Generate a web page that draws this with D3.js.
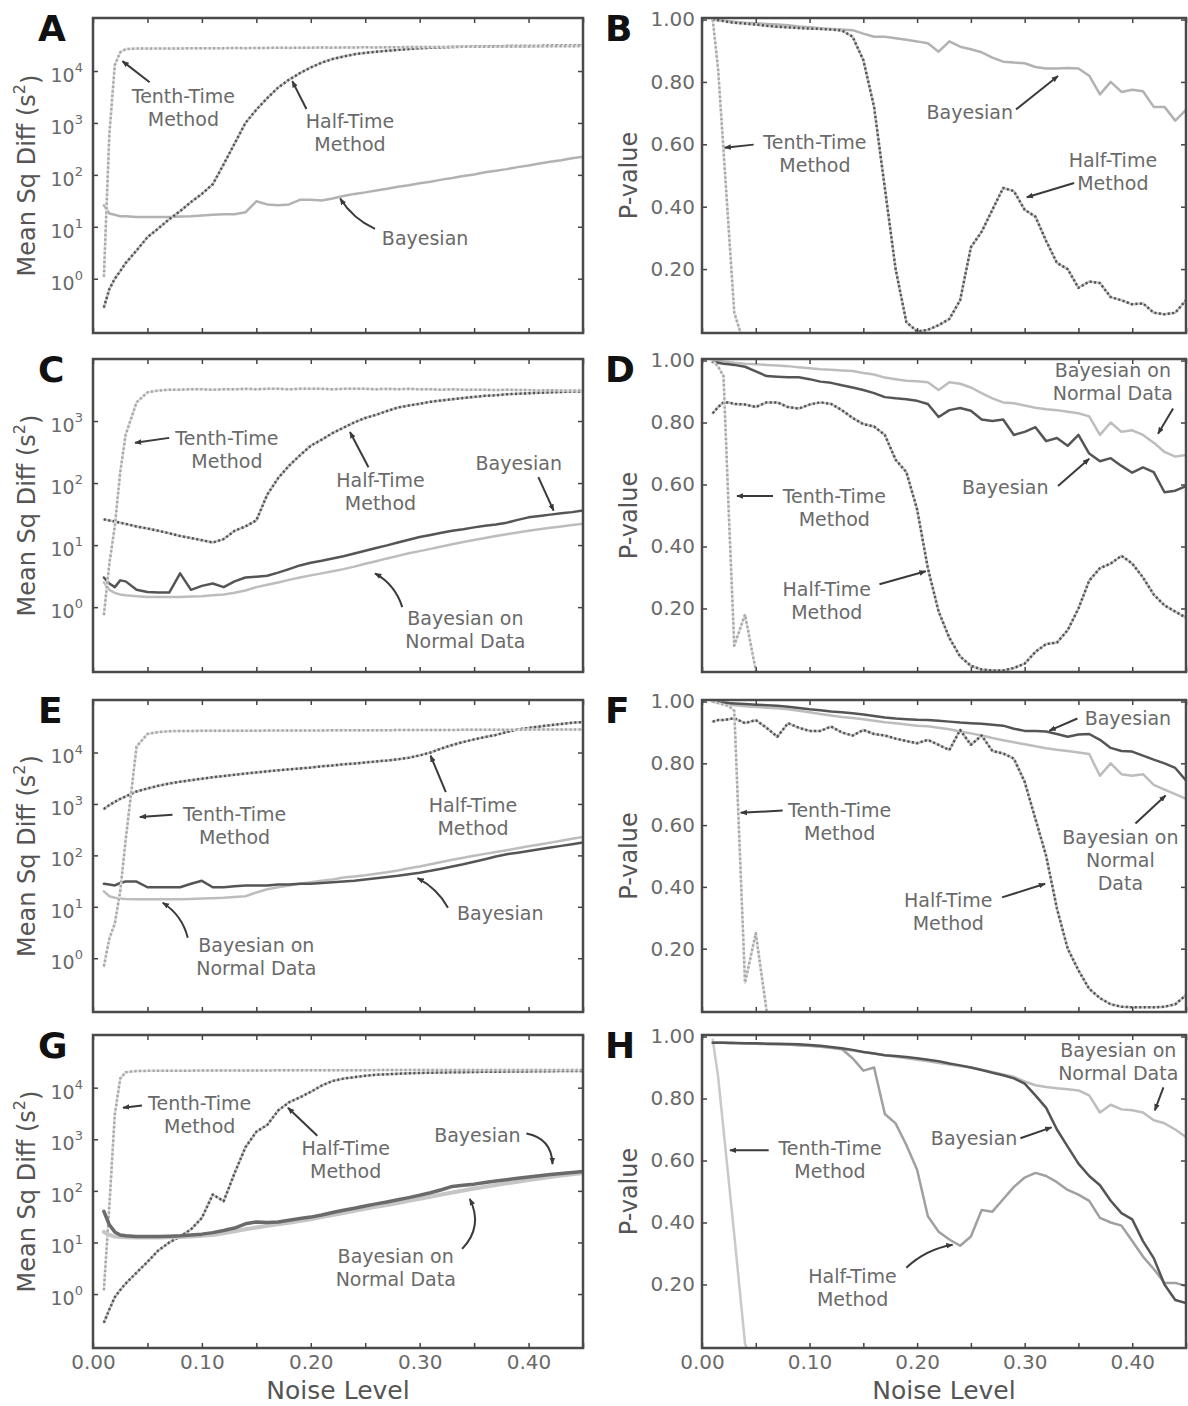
<!DOCTYPE html>
<html><head><meta charset="utf-8">
<script src="https://cdn.jsdelivr.net/npm/d3@7"></script>
<style>
body{margin:0;background:#fff;}
svg text{font-family:"DejaVu Sans",sans-serif;}
</style></head><body>
<svg id="chart" width="1188" height="1406"></svg>
<script>
// ---------------- DATA ----------------
const noise = [0.01,0.015,0.02,0.025,0.03,
 0.04,0.05,0.06,0.07,0.08,0.09,
 0.10,0.11,0.12,0.13,0.14,0.15,0.16,0.17,0.18,0.19,
 0.20,0.21,0.22,0.23,0.24,0.25,0.26,0.27,0.28,0.29,
 0.30,0.31,0.32,0.33,0.34,0.35,0.36,0.37,0.38,0.39,
 0.40,0.41,0.42,0.43,0.44,0.45];

// Panel A (Mean Sq Diff)
const aTenth = [1.1,600,13000,23000,26500,
 27000,27200,27100,27300,27200,27400,
 27500,27400,27600,27700,27600,27800,27900,28000,27900,28100,
 28200,28300,28200,28400,28500,28600,28500,28700,28800,28900,
 29000,29100,29000,29200,29300,29400,29500,29500,29600,29700,
 29800,29900,30000,30000,30100,30200];
const aHalf = [0.28,0.63,1.0,1.4,2.0,
 3.5,6.3,9.3,14,20,30,
 43,66,160,400,1000,1800,3000,4800,6800,9100,
 11700,14500,17000,19000,21000,22400,23500,24500,25500,26500,
 27500,28000,28500,29000,29300,29600,29800,30000,30200,30300,
 30400,30500,30600,30700,30800,30900];
const aBayes = [26,18,17,16,16,
 15.5,15.4,15.4,15.5,15.7,16,
 16.5,17,17.5,17.5,19,31,27,26,27,33,
 33,32,35,39,43,46,50,54,59,63,
 69,74,81,87,95,102,112,120,129,141,
 151,166,178,191,209,224];

// Panel B (P-value)
const bTenth = [1.0,0.84,0.58,0.32,0.06,-0.05];
const bHalf = [1.0,0.998,0.995,0.992,0.99,
 0.987,0.984,0.98,0.977,0.975,0.973,
 0.971,0.97,0.968,0.965,0.945,0.87,0.72,0.46,0.2,0.03,
 0.0,0.005,0.02,0.04,0.1,0.27,0.32,0.39,0.46,0.45,
 0.39,0.368,0.29,0.22,0.2,0.14,0.16,0.155,0.11,0.10,
 0.087,0.09,0.06,0.055,0.06,0.10];
const bBayes = [1.0,0.998,0.997,0.995,0.993,
 0.99,0.988,0.986,0.984,0.982,0.978,
 0.975,0.972,0.97,0.968,0.966,0.955,0.945,0.945,0.94,0.935,
 0.93,0.924,0.897,0.93,0.913,0.905,0.895,0.878,0.865,0.862,
 0.86,0.848,0.843,0.843,0.845,0.843,0.82,0.76,0.80,0.768,
 0.775,0.77,0.72,0.72,0.676,0.71];

// Panel C (Mean Sq Diff)
const cTenth = [0.75,5,20,150,600,
 2000,2900,3100,3200,3200,3250,
 3250,3200,3250,3250,3300,3250,3300,3300,3250,3300,
 3300,3300,3250,3300,3300,3300,3250,3300,3250,3300,
 3250,3250,3200,3250,3200,3200,3200,3150,3200,3150,
 3150,3100,3150,3100,3100,3100];
const cHalf = [26,25,24,23,22,
 20,18.5,17,15.5,14,13,
 12,11,12.5,17,20,25,65,120,190,280,
 400,500,640,780,950,1120,1260,1450,1650,1780,
 1900,2040,2150,2250,2350,2450,2550,2600,2700,2750,
 2800,2850,2900,2950,3000,3000];
const cBayes = [3.0,2.4,2.1,2.7,2.6,
 1.9,1.75,1.72,1.72,3.5,1.9,
 2.2,2.4,2.1,2.6,3.0,3.1,3.2,3.6,4.1,4.7,
 5.2,5.6,6.1,6.6,7.3,8.1,9.0,9.9,11,12.2,
 13.5,14.6,15.8,17,18,19.3,20.5,21.5,23,25.5,
 28,29.5,31,32.5,34,36];
const cNormal = [2.5,1.9,1.7,1.6,1.55,
 1.5,1.45,1.45,1.45,1.45,1.48,
 1.5,1.55,1.6,1.7,1.85,2.1,2.3,2.5,2.75,3.0,
 3.25,3.5,3.8,4.1,4.5,5.0,5.5,6.1,6.7,7.4,
 8.0,8.7,9.5,10.3,11.2,12.1,13,14,15,16,
 17,18,19,20,21,22];

// Panel D (P-value)
const dTenth = [1.0,0.98,0.95,0.5,0.08,0.18,0.0,-0.05];
const dHalf = [0.83,0.85,0.865,0.865,0.86,
 0.858,0.85,0.865,0.865,0.85,0.845,
 0.858,0.865,0.86,0.84,0.815,0.795,0.787,0.76,0.68,0.64,
 0.52,0.33,0.19,0.105,0.045,0.015,0.003,0.0,0.0,0.008,
 0.022,0.06,0.085,0.09,0.13,0.2,0.29,0.33,0.345,0.37,
 0.345,0.3,0.245,0.21,0.19,0.17];
const dBayes = [0.995,0.993,0.99,0.988,0.986,
 0.98,0.965,0.95,0.948,0.946,0.946,
 0.94,0.932,0.928,0.92,0.913,0.905,0.895,0.882,0.878,0.875,
 0.87,0.86,0.818,0.84,0.847,0.838,0.81,0.805,0.81,0.76,
 0.77,0.785,0.74,0.75,0.725,0.76,0.70,0.675,0.685,0.66,
 0.638,0.655,0.64,0.575,0.58,0.595];
const dNormal = [1.0,0.999,0.997,0.995,0.993,
 0.99,0.988,0.986,0.984,0.982,0.978,
 0.975,0.972,0.97,0.968,0.966,0.96,0.955,0.945,0.94,0.935,
 0.933,0.93,0.905,0.93,0.925,0.913,0.895,0.878,0.865,0.862,
 0.855,0.848,0.843,0.84,0.835,0.83,0.82,0.76,0.80,0.77,
 0.775,0.76,0.735,0.705,0.69,0.695];

// Panel E (Mean Sq Diff)
const eTenth = [0.7,2.4,4.7,20,200,
 13000,23000,25000,26000,26300,26300,
 26400,26400,26500,26500,26600,26600,26700,26700,26800,26800,
 26900,26900,27000,27000,27100,27100,27200,27200,27300,27300,
 27400,27400,27500,27500,27600,27600,27700,27700,27800,27800,
 27900,27900,28000,28000,28100,28100];
const eHalf = [800,950,1100,1250,1400,
 1750,2000,2250,2500,2700,2900,
 3100,3300,3500,3700,3900,4100,4300,4500,4700,4900,
 5100,5400,5600,5900,6100,6400,6700,7000,7400,7900,
 8800,10000,12000,14000,16000,18000,20000,22000,25000,28000,
 30000,32000,34000,36000,38000,39000];
const eBayes = [28,27,26,29,31,
 31,24,24,24,24,28,
 32,24,24,25,26,26,26,27,27,28,
 28,29,30,31,32,34,36,38,40,43,
 46,50,55,61,67,75,84,95,105,113,
 122,132,142,153,165,178];
const eNormal = [20,16,15,14.5,14.2,
 14,14,14,14,14,14.2,
 14.5,14.7,15,15.5,16,19,22,24,26,28,
 30,32,34,37,39,41,44,47,51,56,
 61,67,74,82,90,98,107,116,126,138,
 150,163,177,193,210,228];

// Panel F (P-value)
const fTenth = [1.0,0.995,0.99,0.985,0.97,0.09,0.25,0.0,-0.05];
const fHalf = [0.935,0.94,0.94,0.943,0.946,
 0.93,0.94,0.915,0.886,0.93,0.915,
 0.905,0.905,0.919,0.9,0.89,0.908,0.895,0.89,0.88,0.872,
 0.865,0.876,0.86,0.843,0.908,0.86,0.89,0.84,0.832,0.815,
 0.74,0.62,0.5,0.33,0.2,0.13,0.07,0.04,0.02,0.012,
 0.01,0.01,0.01,0.012,0.02,0.05];
const fBayes = [1.0,0.998,0.997,0.995,0.994,
 0.992,0.99,0.988,0.986,0.983,0.979,
 0.975,0.972,0.968,0.965,0.962,0.958,0.953,0.948,0.945,0.943,
 0.941,0.94,0.938,0.935,0.932,0.93,0.928,0.925,0.922,0.912,
 0.905,0.905,0.903,0.895,0.886,0.893,0.895,0.876,0.85,0.84,
 0.838,0.825,0.812,0.8,0.785,0.745];
const fNormal = [1.0,0.996,0.993,0.99,0.988,
 0.985,0.982,0.98,0.978,0.975,0.97,
 0.965,0.96,0.955,0.95,0.947,0.943,0.938,0.933,0.93,0.926,
 0.922,0.92,0.915,0.91,0.903,0.897,0.89,0.882,0.875,0.868,
 0.862,0.855,0.849,0.844,0.84,0.835,0.83,0.76,0.8,0.765,
 0.76,0.765,0.73,0.715,0.7,0.685];

// Panel G (Mean Sq Diff)
const gTenth = [1.2,50,3000,15000,20000,
 21000,21200,21300,21300,21400,21400,
 21500,21500,21500,21600,21600,21600,21600,21700,21700,21700,
 21700,21800,21800,21800,21800,21800,21900,21900,21900,21900,
 21900,22000,22000,22000,22000,22000,22000,22000,22000,22000,
 22000,22000,22000,22000,22000,22000];
const gHalf = [0.28,0.5,0.87,1.2,1.6,
 2.6,4.2,7,10,13,18,
 30,85,63,220,700,1400,1900,3600,5200,6500,
 8300,11000,13500,15000,16000,17000,17800,18200,18600,19000,
 19300,19500,19700,19900,20000,20200,20300,20400,20500,20600,
 20700,20800,20900,21000,21000,21000];
const gBayes = [40,22,16,14,13.5,
 13,13,13,13.2,13.5,14,
 14.5,15.5,17,19,23,25,24.5,25,27,29,
 31,34,38,42,46,51,56,61,67,74,
 82,92,105,122,128,135,145,155,165,175,
 185,196,207,218,228,238];
const gNormal = [16,14,13,12.8,12.6,
 12.5,12.5,12.5,12.6,12.8,13,
 13.5,14,15,16.5,18,19.5,21,22.5,24,26,
 28,31,34,37,41,45,49,53,58,64,
 70,77,85,93,102,111,120,130,140,150,
 162,174,186,198,210,222];

// Panel H (P-value)
const hTenth = [0.99,0.87,0.70,0.53,0.36,0.01,-0.1];
const hHalf = [0.98,0.98,0.98,0.98,0.979,
 0.978,0.977,0.976,0.975,0.974,0.972,
 0.97,0.968,0.965,0.96,0.93,0.89,0.9,0.75,0.72,0.65,
 0.57,0.42,0.37,0.345,0.325,0.355,0.44,0.435,0.475,0.515,
 0.545,0.56,0.55,0.53,0.505,0.49,0.47,0.415,0.4,0.39,
 0.34,0.29,0.25,0.205,0.205,0.195];
const hBayes = [0.98,0.98,0.98,0.979,0.979,
 0.978,0.978,0.977,0.977,0.976,0.975,
 0.973,0.97,0.966,0.962,0.957,0.95,0.945,0.94,0.937,0.934,
 0.93,0.925,0.92,0.913,0.907,0.9,0.892,0.883,0.875,0.865,
 0.848,0.81,0.77,0.7,0.645,0.59,0.55,0.52,0.47,0.43,
 0.41,0.34,0.285,0.2,0.15,0.14];
const hNormal = [0.98,0.98,0.98,0.979,0.979,
 0.978,0.977,0.976,0.975,0.974,0.972,
 0.97,0.967,0.963,0.959,0.955,0.95,0.945,0.94,0.935,0.93,
 0.925,0.92,0.915,0.91,0.905,0.9,0.893,0.886,0.878,0.87,
 0.855,0.843,0.837,0.833,0.83,0.826,0.81,0.755,0.78,0.765,
 0.762,0.755,0.73,0.72,0.7,0.676];

// Tick values / labels
const xTickValues = [0,0.05,0.10,0.15,0.20,0.25,0.30,0.35,0.40,0.45];
const xTickLabels = ["0.00","0.10","0.20","0.30","0.40"];
const logTickValues = [1,10,100,1000,10000];
const logTickValuesC = [1,10,100,1000];
const pTickValues = [0.2,0.4,0.6,0.8,1.0];
const pTickLabels = ["0.20","0.40","0.60","0.80","1.00"];

// ---------------- LAYOUT / STYLE ----------------
const COLS = [{x0:93,x1:583},{x0:702,x1:1186}];
const ROWS = [{y0:18,y1:333},{y0:359,y1:672},{y0:700,y1:1012},{y0:1035,y1:1348}];
const XDOM = [0,0.45];
const LOGDOM = [0.09,1.05e5];
const LOGDOM_C = [0.09,1.0e4];
const PDOM = [-0.005,1.005];

const lineStyles = {
  tenthDotted:[{stroke:"#dedede",w:2.5},{stroke:"#a4a4a4",w:2.5,dash:"2,2.5"}],
  halfDotted:[{stroke:"#c2c2c2",w:2.5},{stroke:"#505050",w:2.5,dash:"2,2.5"}],
  tenthSolid:[{stroke:"#c9c9c9",w:2.5}],
  halfSolid:[{stroke:"#a0a0a0",w:2.5}],
  bayesLight:[{stroke:"#b2b2b2",w:2.5}],
  bayesDark:[{stroke:"#555555",w:2.5}],
  bayesDarkThick:[{stroke:"#6a6a6a",w:3.5}],
  normalLight:[{stroke:"#bdbdbd",w:2.5}],
  normalLightThick:[{stroke:"#c6c6c6",w:4}]
};

const TT = ["Tenth-Time","Method"], HT = ["Half-Time","Method"], BY = ["Bayesian"], BN = ["Bayesian on","Normal Data"];

const panels = [
 {id:"A", kind:"log", dom:LOGDOM, ticks:logTickValues,
  series:[[aBayes,"bayesLight"],[aHalf,"halfDotted"],[aTenth,"tenthDotted"]],
  notes:[
   {lines:TT, tx:0.083, ty:3300, ax:0.052, ay:6100, bx:0.027, by:15500},
   {lines:HT, tx:0.236, ty:1050, ax:0.196, ay:1860, bx:0.183, by:6400},
   {lines:BY, tx:0.305, ty:5.9, ax:0.259, ay:9.1, bx:0.227, by:35, rad:0.15}]},
 {id:"B", kind:"p", dom:PDOM,
  series:[[bBayes,"bayesLight"],[bHalf,"halfDotted"],[bTenth,"tenthDotted"]],
  notes:[
   {lines:BY, tx:0.249, ty:0.702, ax:0.292, ay:0.712, bx:0.331, by:0.819},
   {lines:TT, tx:0.105, ty:0.605, ax:0.048, ay:0.599, bx:0.021, by:0.589},
   {lines:HT, tx:0.382, ty:0.55, ax:0.346, ay:0.476, bx:0.302, by:0.43}]},
 {id:"C", kind:"log", dom:LOGDOM_C, ticks:logTickValuesC,
  series:[[cNormal,"normalLight"],[cBayes,"bayesDark"],[cHalf,"halfDotted"],[cTenth,"tenthDotted"]],
  notes:[
   {lines:TT, tx:0.123, ty:535, ax:0.07, ay:535, bx:0.0386, by:445},
   {lines:HT, tx:0.264, ty:112, ax:0.253, ay:180, bx:0.236, by:665},
   {lines:BY, tx:0.391, ty:210, ax:0.409, ay:125, bx:0.423, by:36},
   {lines:BN, tx:0.342, ty:0.66, ax:0.284, ay:1.0, bx:0.259, by:3.5, rad:-0.2}]},
 {id:"D", kind:"p", dom:PDOM,
  series:[[dNormal,"normalLight"],[dBayes,"bayesDark"],[dHalf,"halfDotted"],[dTenth,"tenthDotted"]],
  notes:[
   {lines:BN, tx:0.382, ty:0.968, ax:0.438, ay:0.845, bx:0.424, by:0.764},
   {lines:BY, tx:0.282, ty:0.592, ax:0.331, ay:0.595, bx:0.36, by:0.683},
   {lines:TT, tx:0.123, ty:0.563, ax:0.066, ay:0.563, bx:0.0325, by:0.563},
   {lines:HT, tx:0.116, ty:0.262, ax:0.165, ay:0.278, bx:0.208, by:0.32}]},
 {id:"E", kind:"log", dom:LOGDOM, ticks:logTickValues,
  series:[[eNormal,"normalLight"],[eBayes,"bayesDark"],[eHalf,"halfDotted"],[eTenth,"tenthDotted"]],
  notes:[
   {lines:TT, tx:0.13, ty:615, ax:0.073, ay:615, bx:0.043, by:560},
   {lines:HT, tx:0.349, ty:955, ax:0.324, ay:1700, bx:0.31, by:8700},
   {lines:BY, tx:0.374, ty:7.6, ax:0.326, ay:9.6, bx:0.298, by:36, rad:-0.15},
   {lines:BN, tx:0.15, ty:1.78, ax:0.087, ay:2.5, bx:0.064, by:12, rad:-0.2}]},
 {id:"F", kind:"p", dom:PDOM,
  series:[[fNormal,"normalLight"],[fBayes,"bayesDark"],[fHalf,"halfDotted"],[fTenth,"tenthDotted"]],
  notes:[
   {lines:BY, tx:0.396, ty:0.945, ax:0.349, ay:0.945, bx:0.323, by:0.906},
   {lines:TT, tx:0.128, ty:0.647, ax:0.075, ay:0.647, bx:0.036, by:0.64},
   {lines:["Bayesian on","Normal","Data"], tx:0.389, ty:0.56, ax:0.403, ay:0.605, bx:0.431, by:0.696},
   {lines:HT, tx:0.229, ty:0.356, ax:0.279, ay:0.366, bx:0.319, by:0.41}]},
 {id:"G", kind:"log", dom:LOGDOM, ticks:logTickValues,
  series:[[gHalf,"halfDotted"],[gTenth,"tenthDotted"],[gNormal,"normalLightThick"],[gBayes,"bayesDarkThick"]],
  notes:[
   {lines:TT, tx:0.098, ty:4900, ax:0.045, ay:4500, bx:0.0275, by:4100},
   {lines:HT, tx:0.232, ty:660, ax:0.206, ay:1170, bx:0.179, by:4100},
   {lines:BY, tx:0.353, ty:1170, ax:0.398, ay:1290, bx:0.422, by:330, rad:0.4},
   {lines:BN, tx:0.278, ty:5.5, ax:0.339, ay:7.5, bx:0.346, by:70, rad:-0.35}]},
 {id:"H", kind:"p", dom:PDOM,
  series:[[hTenth,"tenthSolid"],[hNormal,"normalLight"],[hHalf,"halfSolid"],[hBayes,"bayesDark"]],
  notes:[
   {lines:BN, tx:0.387, ty:0.955, ax:0.429, ay:0.836, bx:0.421, by:0.762},
   {lines:BY, tx:0.253, ty:0.672, ax:0.296, ay:0.672, bx:0.325, by:0.707},
   {lines:TT, tx:0.119, ty:0.64, ax:0.062, ay:0.633, bx:0.026, by:0.633},
   {lines:HT, tx:0.14, ty:0.225, ax:0.19, ay:0.254, bx:0.233, by:0.328, rad:0.15}]}
];

// ---------------- DRAW ----------------
const svg = d3.select("#chart");
const defs = svg.append("defs");
defs.append("marker").attr("id","ah").attr("viewBox","0 0 10 10")
  .attr("refX",9).attr("refY",5).attr("markerWidth",7).attr("markerHeight",7)
  .attr("markerUnits","userSpaceOnUse").attr("orient","auto")
  .append("path").attr("d","M0,1L10,5L0,9Z").attr("fill","#3a3a3a");

const FRAME = "#4a4a4a", TICKC = "#444", TXT = "#6a6a6a", LBL = "#555";

panels.forEach((p, i) => {
  const col = COLS[i % 2], row = ROWS[Math.floor(i / 2)];
  const isBottom = Math.floor(i / 2) === 3;
  const x = d3.scaleLinear().domain(XDOM).range([col.x0, col.x1]);
  const y = (p.kind === "log" ? d3.scaleLog() : d3.scaleLinear()).domain(p.dom).range([row.y1, row.y0]);
  const g = svg.append("g");

  defs.append("clipPath").attr("id", "clip" + p.id).append("rect")
    .attr("x", col.x0).attr("y", row.y0).attr("width", col.x1 - col.x0).attr("height", row.y1 - row.y0);

  // series
  const lg = g.append("g").attr("clip-path", `url(#clip${p.id})`);
  p.series.forEach(([vals, st]) => {
    const pts = vals.map((v, k) => [noise[k], v]);
    const line = d3.line().x(d => x(d[0])).y(d => y(p.kind === "log" ? Math.max(d[1], 1e-3) : d[1]));
    lineStyles[st].forEach(s => {
      lg.append("path").datum(pts).attr("d", line).attr("fill", "none")
        .attr("stroke", s.stroke).attr("stroke-width", s.w)
        .attr("stroke-linejoin", "round").attr("stroke-linecap", s.dash ? "butt" : "round")
        .attr("stroke-dasharray", s.dash || null);
    });
  });

  // axes (inward ticks on all sides)
  const styleAxis = sel => {
    sel.select(".domain").remove();
    sel.selectAll(".tick line").attr("stroke", TICKC).attr("stroke-width", 1.5);
    sel.selectAll(".tick text").attr("fill", TXT).attr("font-size", 20)
      .attr("font-family", "DejaVu Sans, sans-serif");
  };
  const xfmt = d => {
    const idx = xTickValues.indexOf(d);
    return (isBottom && idx % 2 === 0 && idx / 2 < xTickLabels.length) ? xTickLabels[idx / 2] : "";
  };
  g.append("g").attr("transform", `translate(0,${row.y1})`)
    .call(d3.axisBottom(x).tickValues(xTickValues).tickSizeInner(-5).tickSizeOuter(0).tickPadding(7).tickFormat(xfmt))
    .call(styleAxis);
  g.append("g").attr("transform", `translate(0,${row.y0})`)
    .call(d3.axisTop(x).tickValues(xTickValues).tickSizeInner(-5).tickSizeOuter(0).tickFormat(""))
    .call(styleAxis);

  if (p.kind === "log") {
    const la = g.append("g").attr("transform", `translate(${col.x0},0)`)
      .call(d3.axisLeft(y).tickValues(p.ticks).tickSizeInner(-5).tickSizeOuter(0).tickPadding(10).tickFormat(""))
      .call(styleAxis);
    la.selectAll(".tick text").each(function(d) {
      const t = d3.select(this).text(null).attr("font-size", 19).attr("dy", "0.55em");
      t.append("tspan").text("10");
      t.append("tspan").attr("dy", "-0.75em").attr("font-size", 13).text(Math.round(Math.log10(d)));
    });
    g.append("g").attr("transform", `translate(${col.x1},0)`)
      .call(d3.axisRight(y).tickValues(p.ticks).tickSizeInner(-5).tickSizeOuter(0).tickFormat(""))
      .call(styleAxis);
  } else {
    g.append("g").attr("transform", `translate(${col.x0},0)`)
      .call(d3.axisLeft(y).tickValues(pTickValues).tickSizeInner(-5).tickSizeOuter(0).tickPadding(7)
        .tickFormat((d, k) => pTickLabels[k]))
      .call(styleAxis);
    g.append("g").attr("transform", `translate(${col.x1},0)`)
      .call(d3.axisRight(y).tickValues(pTickValues).tickSizeInner(-5).tickSizeOuter(0).tickFormat(""))
      .call(styleAxis);
  }

  // frame
  g.append("rect").attr("x", col.x0).attr("y", row.y0)
    .attr("width", col.x1 - col.x0).attr("height", row.y1 - row.y0)
    .attr("fill", "none").attr("stroke", FRAME).attr("stroke-width", 2.5);

  // annotations
  p.notes.forEach(a => {
    const x1 = x(a.ax), y1 = y(a.ay), x2 = x(a.bx), y2 = y(a.by);
    let d;
    if (a.rad) {
      const mx = (x1 + x2) / 2, my = (y1 + y2) / 2, dx = x2 - x1, dy = y2 - y1;
      d = `M${x1},${y1}Q${mx + a.rad * dy},${my - a.rad * dx} ${x2},${y2}`;
    } else d = `M${x1},${y1}L${x2},${y2}`;
    g.append("path").attr("d", d).attr("fill", "none").attr("stroke", "#3a3a3a")
      .attr("stroke-width", 2).attr("marker-end", "url(#ah)");
    a.lines.forEach((t, k) => {
      g.append("text").attr("x", x(a.tx)).attr("y", y(a.ty) + k * 23).attr("dy", "0.35em")
        .attr("text-anchor", "middle").attr("font-size", 19).attr("fill", TXT).text(t);
    });
  });

  // panel letter
  svg.append("text").attr("x", i % 2 === 0 ? col.x0 - 55 : col.x0 - 97).attr("y", row.y0 + 23)
    .attr("font-size", 36).attr("font-weight", "bold").attr("fill", "#111").text(p.id);

  // y label
  const yl = svg.append("text")
    .attr("transform", `translate(${i % 2 === 0 ? 27 : 629},${(row.y0 + row.y1) / 2}) rotate(-90)`)
    .attr("text-anchor", "middle").attr("dominant-baseline", "central")
    .attr("font-size", 24).attr("fill", LBL);
  if (p.kind === "log") {
    yl.append("tspan").text("Mean Sq Diff (s");
    yl.append("tspan").attr("dy", "-0.5em").attr("font-size", 16).text("2");
    yl.append("tspan").attr("dy", "0.5em").text(")");
  } else {
    yl.text("P-value");
  }

  if (isBottom) {
    svg.append("text").attr("x", (col.x0 + col.x1) / 2).attr("y", 1399)
      .attr("text-anchor", "middle").attr("font-size", 25).attr("fill", LBL).text("Noise Level");
  }
});
</script>
</body></html>
